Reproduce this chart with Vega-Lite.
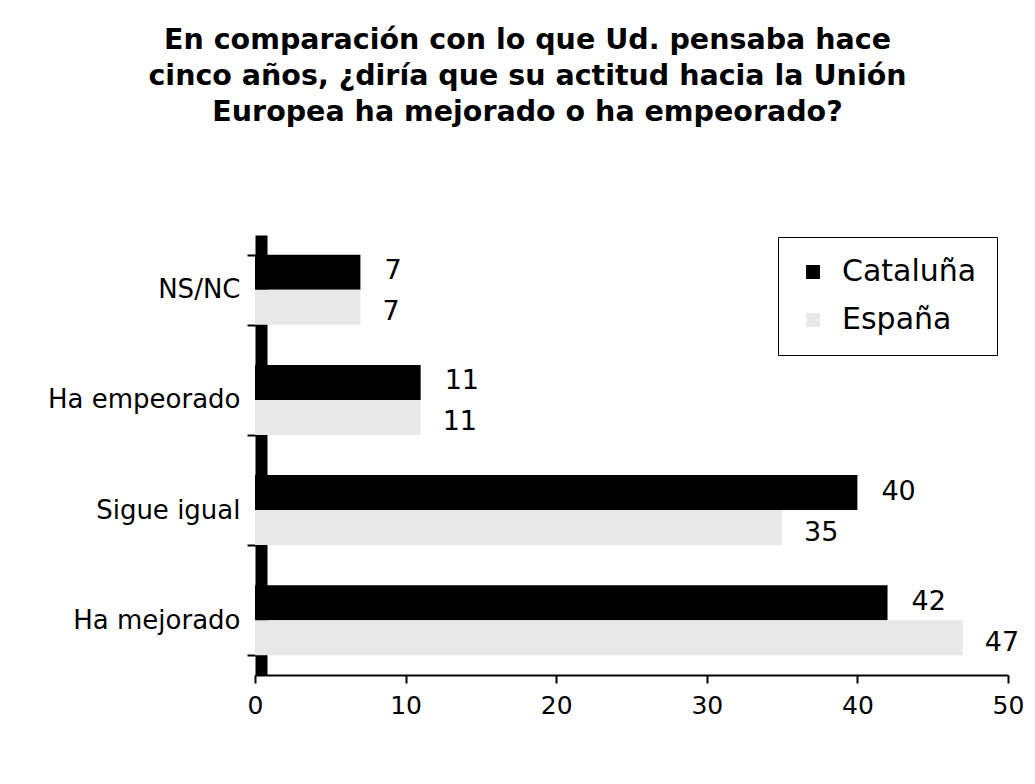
{
  "$schema": "https://vega.github.io/schema/vega-lite/v6.json",
  "autosize": "none",
  "width": 753,
  "height": 440,
  "padding": {"left": 255, "top": 235, "right": 27, "bottom": 109},
  "background": "white",
  "title": {
    "text": ["En comparación con lo que Ud. pensaba hace", "cinco años, ¿diría que su actitud hacia la Unión", "Europea ha mejorado o ha empeorado?"],
    "font": "DejaVu Sans",
    "fontWeight": "bold",
    "fontSize": 28.5,
    "lineHeight": 36,
    "color": "black",
    "anchor": "middle",
    "dx": -104,
    "offset": 96
  },
  "data": {
    "values": [
      {"cat": "NS/NC", "serie": "Cataluña", "v": 7},
      {"cat": "NS/NC", "serie": "España", "v": 7},
      {"cat": "Ha empeorado", "serie": "Cataluña", "v": 11},
      {"cat": "Ha empeorado", "serie": "España", "v": 11},
      {"cat": "Sigue igual", "serie": "Cataluña", "v": 40},
      {"cat": "Sigue igual", "serie": "España", "v": 35},
      {"cat": "Ha mejorado", "serie": "Cataluña", "v": 42},
      {"cat": "Ha mejorado", "serie": "España", "v": 47}
    ]
  },
  "encoding": {
    "y": {
      "field": "cat",
      "type": "nominal",
      "sort": ["NS/NC", "Ha empeorado", "Sigue igual", "Ha mejorado"],
      "scale": {"paddingInner": 0.364, "paddingOuter": 0.18},
      "axis": {
        "title": null,
        "offset": -6,
        "domainColor": "black",
        "domainWidth": 12,
        "tickColor": "black",
        "tickWidth": 2,
        "tickSize": 14,
        "tickBand": "extent",
        "labelFont": "DejaVu Sans",
        "labelFontSize": 26,
        "labelColor": "black",
        "labelPadding": 7,
        "labelLimit": 400,
        "grid": false
      }
    },
    "yOffset": {
      "field": "serie",
      "type": "nominal",
      "sort": ["Cataluña", "España"],
      "scale": {"paddingInner": 0, "paddingOuter": 0}
    },
    "x": {
      "field": "v",
      "type": "quantitative",
      "scale": {"domain": [0, 50]},
      "axis": {
        "title": null,
        "values": [0, 10, 20, 30, 40, 50],
        "grid": false,
        "domainColor": "black",
        "domainWidth": 2,
        "tickColor": "black",
        "tickWidth": 2,
        "tickSize": 8,
        "labelFont": "DejaVu Sans",
        "labelFontSize": 25,
        "labelColor": "black",
        "labelPadding": 10,
        "labelFlush": false
      }
    }
  },
  "layer": [
    {
      "mark": {"type": "bar"},
      "encoding": {
        "color": {
          "field": "serie",
          "type": "nominal",
          "scale": {"domain": ["Cataluña", "España"], "range": ["#000000", "#e8e8e8"]},
          "legend": {
            "title": null,
            "orient": "none",
            "legendX": 523,
            "legendY": 2,
            "strokeColor": "black",
            "fillColor": "white",
            "padding": 20,
            "symbolType": "square",
            "symbolSize": 196,
            "symbolStrokeWidth": 0,
            "labelFont": "DejaVu Sans",
            "labelFontSize": 30,
            "labelColor": "black",
            "rowPadding": 18,
            "labelOffset": 14
          }
        }
      }
    },
    {
      "transform": [{"filter": "datum.serie === 'Cataluña'"}],
      "mark": {"type": "text", "align": "left", "baseline": "middle", "dx": 24, "dy": -1, "font": "DejaVu Sans", "fontSize": 27, "color": "black"},
      "encoding": {
        "text": {"field": "v", "type": "quantitative"}
      }
    },
    {
      "transform": [{"filter": "datum.serie === 'España'"}],
      "mark": {"type": "text", "align": "left", "baseline": "middle", "dx": 22, "dy": 5, "font": "DejaVu Sans", "fontSize": 27, "color": "black"},
      "encoding": {
        "text": {"field": "v", "type": "quantitative"}
      }
    }
  ],
  "config": {
    "view": {"stroke": null}
  }
}
